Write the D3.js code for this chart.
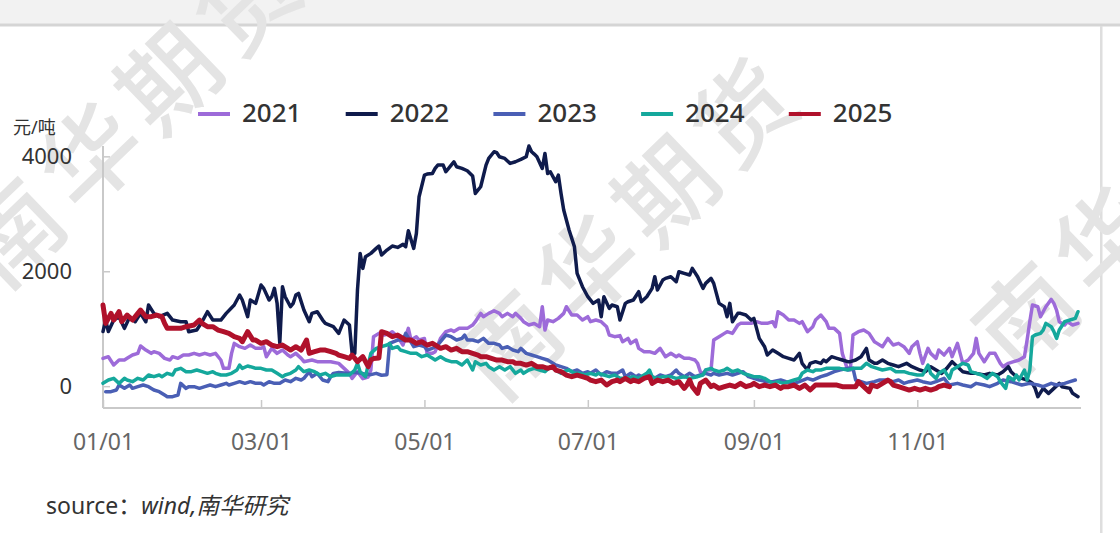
<!DOCTYPE html>
<html><head><meta charset="utf-8">
<script src="https://cdn.jsdelivr.net/npm/d3@7"></script>
<style>body{margin:0;background:#fff;} svg{display:block;}</style>
</head><body>
<svg id="c" width="1120" height="533"></svg>
<script>
const seriesNames = ["2021","2022","2023","2024","2025"];
const seriesColors = ["#9d6bd9","#0f1b4c","#4a5fb5","#15a89c","#b0112b"];
const yTickValues = [0,2000,4000];
const xTickDays = [0,59,120,181,243,304];
const unitLabel = "元/吨";
const sourceLabel = "source：";
const sourceItalic = "wind,南华研究";
const watermarkText = "南华期货";

// [day of year, value]
const s2021 = [[0,484],[2,513],[4,368],[6,455],[8,455],[9,484],[11,542],[13,571],[14,699],[16,629],[18,571],[19,600],[21,571],[23,484],[25,455],[26,513],[28,484],[30,542],[32,542],[34,571],[36,542],[38,571],[40,542],[42,571],[44,455],[45,310],[47,310],[48,571],[49,745],[51,687],[53,658],[55,716],[57,658],[59,658],[60,687],[61,513],[63,658],[65,571],[67,629],[69,542],[70,513],[72,571],[74,484],[75,426],[78,455],[80,426],[83,426],[85,426],[88,397],[90,310],[92,223],[93,136],[95,252],[97,130],[99,160],[100,280],[101,860],[103,919],[105,890],[107,919],[108,948],[110,861],[112,716],[114,1006],[115,803],[117,860],[118,803],[120,830],[121,571],[123,571],[124,600],[126,832],[128,948],[130,977],[131,950],[133,1006],[136,1006],[138,1064],[139,1122],[141,1267],[142,1209],[144,1267],[146,1313],[148,1267],[149,1209],[151,1267],[153,1209],[154,1267],[156,1180],[157,1122],[159,1064],[161,1090],[163,1035],[164,1383],[165,977],[166,1151],[168,1122],[170,1180],[172,1267],[173,1383],[175,1238],[177,1238],[179,1151],[181,1209],[182,1122],[184,1151],[186,1122],[188,1035],[189,890],[191,861],[193,880],[194,774],[196,832],[197,745],[199,803],[200,658],[202,600],[204,600],[206,571],[208,658],[210,513],[212,571],[214,513],[215,542],[217,484],[219,484],[221,455],[222,397],[223,252],[224,223],[225,281],[227,281],[228,803],[230,861],[232,919],[233,948],[235,919],[237,1064],[238,1093],[240,1093],[242,1093],[244,1122],[246,1093],[248,1093],[250,1122],[251,1035],[252,1296],[254,1238],[256,1151],[258,1151],[260,1093],[261,1122],[263,948],[265,1035],[266,1151],[268,1238],[270,1122],[271,1006],[273,1006],[275,919],[276,571],[278,281],[279,281],[280,890],[282,948],[284,977],[286,919],[288,774],[289,745],[291,687],[293,832],[295,716],[297,745],[299,687],[301,571],[302,687],[304,774],[305,571],[306,397],[308,658],[309,571],[311,484],[312,629],[314,542],[316,658],[317,513],[319,745],[321,397],[323,455],[325,571],[326,832],[327,571],[329,426],[331,571],[333,571],[335,397],[336,339],[338,397],[340,426],[342,455],[344,513],[345,803],[346,1122],[347,1412],[349,1383],[350,1209],[351,1296],[352,1383],[354,1511],[355,1441],[356,1325],[357,1122],[359,1064],[360,1122],[362,1064],[364,1093]];

const s2022 = [[0,950],[1,1150],[2,950],[4,1150],[6,1209],[8,1006],[10,1209],[12,1122],[14,1267],[16,1122],[17,1412],[19,1267],[21,1209],[24,1267],[26,1151],[29,1122],[31,1122],[32,948],[35,977],[37,1122],[39,1296],[41,1151],[44,1151],[46,1267],[49,1412],[51,1586],[52,1499],[54,1209],[55,1499],[57,1441],[59,1760],[60,1702],[62,1499],[63,1557],[64,1702],[65,1441],[66,750],[67,1731],[68,1557],[70,1383],[71,1441],[72,1586],[73,1615],[75,1325],[77,1122],[78,1267],[80,1296],[82,1151],[83,1093],[86,1035],[88,919],[90,1151],[92,1064],[93,571],[94,571],[95,1670],[96,2311],[97,2050],[98,2253],[100,2311],[102,2398],[103,2439],[104,2282],[106,2369],[108,2439],[110,2415],[112,2468],[113,2427],[114,2705],[116,2398],[117,2659],[118,3297],[120,3674],[121,3691],[123,3703],[124,3790],[125,3848],[127,3848],[128,3732],[130,3848],[131,3906],[132,3819],[134,3790],[136,3749],[138,3657],[139,3355],[141,3471],[143,3848],[144,3964],[146,4080],[147,4063],[148,3993],[150,3964],[152,3877],[154,3906],[156,3947],[158,3993],[159,4179],[160,4080],[161,4039],[162,3993],[164,3790],[165,4051],[166,3703],[167,3732],[169,3558],[170,3674],[171,3355],[172,3065],[174,2717],[176,2427],[177,1963],[179,1731],[181,1557],[183,1441],[185,1499],[186,1209],[187,1557],[189,1354],[190,1412],[192,1383],[193,1151],[195,1441],[196,1470],[198,1499],[200,1644],[201,1470],[203,1557],[205,1702],[206,1905],[207,1673],[209,1847],[210,1876],[212,1905],[214,1818],[215,1992],[217,1963],[219,1934],[220,2050],[222,1905],[224,1702],[225,1789],[227,1876],[228,1789],[229,1615],[230,1441],[232,1383],[233,1209],[234,1441],[235,1122],[237,1267],[238,1267],[240,1238],[242,1151],[243,1180],[245,832],[247,687],[248,542],[250,629],[252,571],[254,513],[256,484],[258,455],[260,571],[261,397],[263,281],[264,397],[266,426],[268,397],[269,455],[270,426],[272,513],[274,484],[276,455],[278,426],[279,426],[281,455],[283,513],[285,658],[286,455],[288,397],[289,397],[291,455],[293,397],[295,368],[297,339],[300,397],[302,339],[305,281],[307,252],[309,339],[311,281],[313,223],[315,310],[317,426],[319,339],[321,252],[324,223],[326,223],[329,194],[331,223],[334,194],[336,252],[338,339],[339,252],[341,165],[343,136],[345,107],[347,49],[348,-38],[349,-183],[351,-38],[353,-125],[355,-38],[357,49],[358,-9],[361,-38],[362,-125],[364,-183]];

const s2023 = [[1,-96],[3,-96],[5,-67],[6,20],[8,-38],[10,20],[11,-38],[13,-9],[15,20],[17,-9],[19,-67],[21,-96],[23,-154],[24,-183],[26,-183],[28,-154],[29,49],[31,-38],[32,-9],[34,-9],[36,-38],[38,-9],[40,20],[42,-9],[44,20],[46,49],[47,20],[49,49],[51,78],[53,49],[55,78],[57,49],[59,49],[60,20],[62,78],[64,49],[66,49],[68,107],[70,78],[72,136],[74,107],[75,136],[77,252],[78,165],[80,223],[82,107],[84,78],[85,165],[86,223],[88,240],[90,230],[92,220],[94,240],[96,230],[98,210],[100,200],[102,223],[104,190],[106,200],[107,745],[110,803],[112,803],[113,919],[116,687],[118,716],[120,687],[121,629],[123,658],[125,716],[127,832],[128,890],[130,861],[132,803],[134,832],[135,890],[136,803],[138,803],[140,774],[142,832],[144,745],[146,745],[148,716],[149,658],[151,687],[153,629],[155,600],[156,658],[158,571],[160,542],[162,513],[164,484],[166,455],[168,397],[169,368],[171,339],[173,310],[175,252],[177,281],[179,223],[181,252],[182,223],[184,281],[186,194],[188,252],[190,223],[192,223],[194,281],[195,165],[197,223],[199,165],[200,194],[202,136],[204,194],[206,136],[208,194],[210,165],[212,194],[214,281],[215,223],[217,165],[219,223],[221,165],[223,194],[225,223],[227,194],[228,223],[230,194],[233,223],[235,194],[237,223],[239,252],[241,165],[243,136],[245,107],[248,78],[250,78],[253,107],[255,78],[258,49],[260,78],[263,136],[265,107],[268,165],[270,194],[273,252],[275,281],[278,310],[280,310],[281,107],[283,78],[285,49],[288,78],[290,107],[292,107],[295,78],[297,107],[299,49],[301,78],[304,107],[306,78],[309,49],[311,78],[314,136],[316,20],[319,49],[321,20],[324,-9],[326,49],[329,20],[331,-9],[334,49],[336,107],[339,78],[341,49],[343,20],[346,49],[349,20],[351,-9],[354,49],[356,20],[359,49],[361,78],[363,107]];

const s2024 = [[0,49],[2,107],[4,136],[6,49],[8,136],[9,107],[11,78],[13,136],[15,107],[17,194],[19,165],[21,194],[22,165],[24,223],[26,194],[27,281],[29,310],[31,252],[33,252],[35,281],[37,252],[39,223],[41,252],[42,223],[44,194],[46,194],[48,223],[50,281],[51,368],[52,310],[54,351],[55,339],[57,310],[59,310],[61,281],[63,281],[65,223],[67,165],[68,194],[70,223],[72,281],[73,339],[75,252],[77,281],[79,252],[81,194],[83,223],[85,165],[87,194],[88,194],[90,194],[92,194],[94,281],[95,397],[96,252],[98,165],[100,571],[102,658],[104,687],[106,716],[107,740],[108,658],[110,687],[111,629],[113,600],[115,571],[117,571],[119,513],[121,542],[123,484],[124,455],[126,513],[128,455],[130,426],[132,426],[134,368],[136,455],[138,281],[139,426],[141,368],[143,397],[144,339],[146,281],[148,339],[150,281],[152,339],[154,223],[156,281],[157,223],[159,281],[161,310],[163,281],[165,252],[167,339],[169,281],[171,223],[172,252],[174,281],[176,223],[178,223],[180,194],[182,223],[184,194],[185,223],[187,194],[189,165],[191,194],[193,136],[195,136],[198,165],[200,136],[203,223],[204,281],[205,165],[207,136],[209,165],[212,165],[214,136],[217,165],[219,136],[222,165],[224,194],[225,281],[227,310],[228,281],[230,252],[232,281],[233,310],[235,252],[237,281],[239,223],[241,194],[243,165],[245,165],[247,136],[248,107],[250,49],[252,78],[254,49],[256,78],[258,107],[260,136],[261,223],[263,281],[265,252],[266,281],[268,281],[270,310],[273,310],[275,310],[278,281],[280,310],[283,310],[285,397],[287,339],[289,310],[291,281],[294,310],[296,252],[299,252],[301,223],[304,194],[306,194],[308,368],[309,223],[311,136],[312,223],[314,281],[316,136],[317,281],[319,339],[321,397],[323,368],[324,252],[326,223],[328,194],[330,136],[332,223],[334,165],[335,78],[337,-38],[338,165],[340,107],[341,194],[342,107],[344,281],[345,107],[346,281],[347,861],[348,890],[350,919],[351,977],[352,1093],[354,1035],[355,948],[356,832],[357,977],[359,1122],[361,1151],[363,1180],[364,1296]];

const s2025 = [[0,1412],[1,1093],[3,1267],[4,1151],[6,1296],[7,1122],[9,1238],[11,1151],[13,1267],[14,1325],[16,1209],[18,1209],[20,1238],[22,1209],[23,1093],[24,1006],[26,1006],[29,1006],[31,1035],[34,1064],[36,1151],[37,1093],[39,1035],[41,1035],[43,977],[45,948],[47,919],[49,861],[51,832],[52,774],[54,948],[56,803],[57,803],[59,745],[61,774],[63,716],[65,687],[67,716],[69,658],[70,629],[72,687],[74,629],[76,803],[77,571],[79,600],[81,629],[83,629],[85,600],[87,571],[88,542],[90,513],[92,484],[93,542],[95,426],[97,513],[99,339],[100,455],[101,480],[103,490],[104,948],[106,919],[108,861],[110,890],[112,832],[113,803],[115,803],[117,745],[119,774],[121,716],[123,745],[125,687],[126,658],[128,687],[130,629],[132,658],[134,600],[136,600],[138,571],[140,542],[141,513],[143,513],[145,484],[147,455],[149,455],[151,426],[153,426],[154,397],[156,397],[158,368],[160,397],[162,339],[164,339],[166,310],[168,339],[169,281],[171,252],[173,194],[175,165],[177,194],[179,165],[181,136],[182,107],[184,78],[186,107],[188,20],[190,78],[192,107],[193,78],[195,136],[197,78],[198,107],[200,78],[202,136],[204,165],[205,49],[207,107],[209,78],[211,107],[213,49],[215,78],[217,-38],[218,20],[219,107],[220,-9],[222,-125],[223,49],[225,107],[227,-9],[228,20],[230,-38],[232,-9],[234,20],[236,-9],[238,49],[240,-9],[242,20],[243,49],[245,-9],[247,20],[249,-9],[251,20],[253,-38],[254,-9],[256,-9],[258,20],[260,-38],[262,20],[264,-67],[266,20],[269,20],[271,20],[274,20],[276,-9],[279,-9],[281,-9],[282,78],[284,-9],[286,-96],[287,20],[289,-9],[291,49],[293,107],[294,78],[295,20],[297,-9],[299,-38],[301,-67],[303,-38],[305,-67],[307,-38],[309,-67],[311,-38],[312,-9],[314,20],[316,-9]];

const allSeries = [s2021, s2022, s2023, s2024, s2025];

const svg = d3.select("#c");
const FONT = "'Noto Sans','Noto Sans CJK SC',sans-serif";

// frame
svg.append("rect").attr("x",0).attr("y",0).attr("width",1120).attr("height",24).attr("fill","#f2f2f2");
svg.append("rect").attr("x",0).attr("y",23.5).attr("width",1120).attr("height",3).attr("fill","#d5d5d5");
svg.append("rect").attr("x",1100).attr("y",26).attr("width",2.5).attr("height",507).attr("fill","#dedede");

// watermarks
const wmGroups = [
  {x:8, y:228}, {x:505, y:340}, {x:1022, y:312}
];
const wmStep = [78, -77];
const wm = svg.append("g");
wmGroups.forEach(g => {
  Array.from(watermarkText).forEach((ch,i) => {
    const cx = g.x + wmStep[0]*i, cy = g.y + wmStep[1]*i;
    wm.append("text").attr("x",cx).attr("y",cy)
      .attr("transform",`rotate(-44,${cx},${cy})`)
      .attr("text-anchor","middle").attr("dominant-baseline","central")
      .attr("font-family","'Noto Sans CJK SC',sans-serif").attr("font-weight",500)
      .attr("font-size",98).attr("fill","#e4e4e4").text(ch);
  });
});

const toDate = d => new Date(2021, 0, 1 + d);
const x = d3.scaleTime().domain([new Date(2021,0,1), new Date(2021,11,31)]).range([103,1078]);
const y = d3.scaleLinear().domain([-380, 4180]).range([408, 146]);

const axisColor = "#c9c9c9";
// y axis
const yAxis = d3.axisLeft(y).tickValues(yTickValues).tickSize(-7).tickPadding(31).tickFormat(d3.format("d"));
const gy = svg.append("g").attr("transform","translate(103,0)").call(yAxis);
gy.select(".domain").remove();
gy.selectAll(".tick line").attr("stroke",axisColor).attr("stroke-width",1.5);
gy.selectAll(".tick text").attr("fill","#333").attr("font-size",22).attr("font-family",FONT);
svg.append("line").attr("x1",103).attr("x2",103).attr("y1",146).attr("y2",408).attr("stroke",axisColor).attr("stroke-width",2);

// x axis
const xAxis = d3.axisBottom(x).tickValues(xTickDays.map(toDate)).tickSize(-8).tickPadding(26).tickFormat(d3.timeFormat("%m/%d"));
const gx = svg.append("g").attr("transform","translate(0,408)").call(xAxis);
gx.select(".domain").remove();
gx.selectAll(".tick line").attr("stroke",axisColor).attr("stroke-width",1.5);
gx.selectAll(".tick text").attr("fill","#666").attr("font-size",23).attr("font-family",FONT);
svg.append("line").attr("x1",103).attr("x2",1081).attr("y1",408).attr("y2",408).attr("stroke",axisColor).attr("stroke-width",2);

// lines
const line = d3.line().x(d => x(toDate(d[0]))).y(d => y(d[1]));
allSeries.forEach((s,i) => {
  svg.append("path").datum(s).attr("d",line).attr("fill","none")
    .attr("stroke",seriesColors[i]).attr("stroke-width", i===4 ? 5 : 3.5)
    .attr("stroke-linejoin","round").attr("stroke-linecap","round");
});

// legend
const lg = svg.append("g");
seriesNames.forEach((n,i) => {
  const lx = 198 + i*147.7;
  lg.append("line").attr("x1",lx).attr("x2",lx+32).attr("y1",114).attr("y2",114)
    .attr("stroke",seriesColors[i]).attr("stroke-width",4);
  lg.append("text").attr("x",lx+44).attr("y",122).attr("font-size",26).attr("font-weight",500)
    .attr("font-family",FONT).attr("fill","#333").text(n);
});

// unit
svg.append("text").attr("x",13).attr("y",134).attr("font-size",18).attr("font-family",FONT).attr("fill","#333").text(unitLabel);

// source
const st = svg.append("text").attr("x",46).attr("y",514).attr("font-size",23).attr("font-family",FONT).attr("fill","#333");
st.append("tspan").text(sourceLabel);
st.append("tspan").attr("font-style","italic").text(sourceItalic);
</script>
</body></html>
